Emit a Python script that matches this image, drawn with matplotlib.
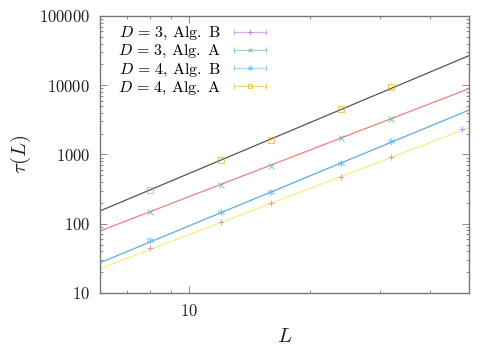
import matplotlib
matplotlib.use("Agg")
import matplotlib.pyplot as plt
import numpy as np
from matplotlib.lines import Line2D
from matplotlib.legend_handler import HandlerLine2D, HandlerTuple
from matplotlib.ticker import FixedLocator, FixedFormatter, LogLocator, NullFormatter

plt.rcParams["mathtext.fontset"] = "cm"
plt.rcParams["font.family"] = "serif"
plt.rcParams["font.serif"] = ["DejaVu Serif"]

# data
L_short = [8, 12, 16, 24, 32]
L_long = [8, 12, 16, 24, 32, 48]

tau_d3_b = [44, 105, 197, 478, 912, 2312]
tau_d3_a = [146, 366, 689, 1714, 3288]
tau_d4_b = [58, 146, 287, 762, 1566]
tau_d4_a = [310, 833, 1620, 4540, 9530]

# power-law fits tau = a * L^b
fit_d4_a = (1.95, 2.435)
fit_d3_a = (1.44, 2.232)
fit_d4_b = (0.375, 2.394)
fit_d3_b = (0.426, 2.212)

labels = [r"$D\,=\,3,\,\mathrm{Alg.\ B}$", r"$D\,=\,3,\,\mathrm{Alg.\ A}$",
          r"$D\,=\,4,\,\mathrm{Alg.\ B}$", r"$D\,=\,4,\,\mathrm{Alg.\ A}$"]

c_purple = "#b060e0"
c_green = "#40b090"
c_blue = "#56b4e9"
c_orange = "#e6a800"

fig = plt.figure(figsize=(4.99, 3.46), dpi=100)
ax = fig.add_axes([0.2004, 0.1532, 0.7395, 0.8006])
ax.set_xscale("log")
ax.set_yscale("log")
ax.set_xlim(6, 50)
ax.set_ylim(10, 100000)

xfit = np.array([6.0, 50.0])
for (a, b), col in [(fit_d4_a, "#555555"), (fit_d3_a, "#f08080"),
                    (fit_d4_b, "#5aaee0"), (fit_d3_b, "#f4ee80")]:
    ax.plot(xfit, a * xfit ** b, color=col, lw=0.9, zorder=2)

series = [
    (L_long, tau_d3_b, c_purple, "+", 5),
    (L_short, tau_d3_a, c_green, "x", 4),
    (L_short, tau_d4_b, c_blue, (6, 2, 0), 5),
    (L_short, tau_d4_a, c_orange, "s", 4),
]
handles = []
hmap = {}
for xs, ys, col, mk, ms in series:
    fc = "none" if mk == "s" else col
    ax.plot(xs, ys, ls="none", marker=mk, ms=ms, mec=col, mfc=fc, mew=0.8,
            alpha=0.6, zorder=3)
    caps = Line2D([], [], color=col, lw=0.9, alpha=0.5, marker="|", ms=4, mew=0.8)
    mid = Line2D([], [], ls="none", color=col, marker=mk, ms=ms - 1, mec=col,
                 mfc=fc, mew=0.8, alpha=0.6)
    hmap[caps] = HandlerLine2D(numpoints=2)
    hmap[mid] = HandlerLine2D(numpoints=1)
    handles.append((caps, mid))
hmap[tuple] = HandlerTuple(ndivide=1, pad=0)

ax.legend(handles, labels, handler_map=hmap, loc="upper left",
          bbox_to_anchor=(0.017, 1.013), frameon=False, markerfirst=False,
          fontsize=11.5, handlelength=2.6, handletextpad=0.5,
          labelspacing=0.0, borderpad=0.25)

ax.yaxis.set_major_locator(FixedLocator([10, 100, 1000, 10000, 100000]))
ax.yaxis.set_major_formatter(FixedFormatter([r"$\mathrm{10}$", r"$\mathrm{100}$",
                                             r"$\mathrm{1000}$", r"$\mathrm{10000}$",
                                             r"$\mathrm{100000}$"]))
ax.yaxis.set_minor_locator(LogLocator(base=10, subs=np.arange(2, 10)))
ax.yaxis.set_minor_formatter(NullFormatter())
ax.xaxis.set_major_locator(FixedLocator([10]))
ax.xaxis.set_major_formatter(FixedFormatter([r"$\mathrm{10}$"]))
ax.xaxis.set_minor_locator(FixedLocator([7, 8, 9, 20, 30, 40]))
ax.xaxis.set_minor_formatter(NullFormatter())

ax.tick_params(which="both", direction="in", top=True, right=True,
               colors="#777777", labelcolor="#222222", labelsize=12)
ax.tick_params(which="major", length=5, width=0.6, pad=7)
ax.tick_params(which="minor", length=2.5, width=0.6)
for s in ax.spines.values():
    s.set_color("#777777")
    s.set_linewidth(1.0)

ax.set_xlabel(r"$L$", fontsize=15, labelpad=5, color="#222222")
ax.set_ylabel(r"$\tau(L)$", fontsize=15, labelpad=4, color="#222222")

fig.savefig("out.png", dpi=100)
